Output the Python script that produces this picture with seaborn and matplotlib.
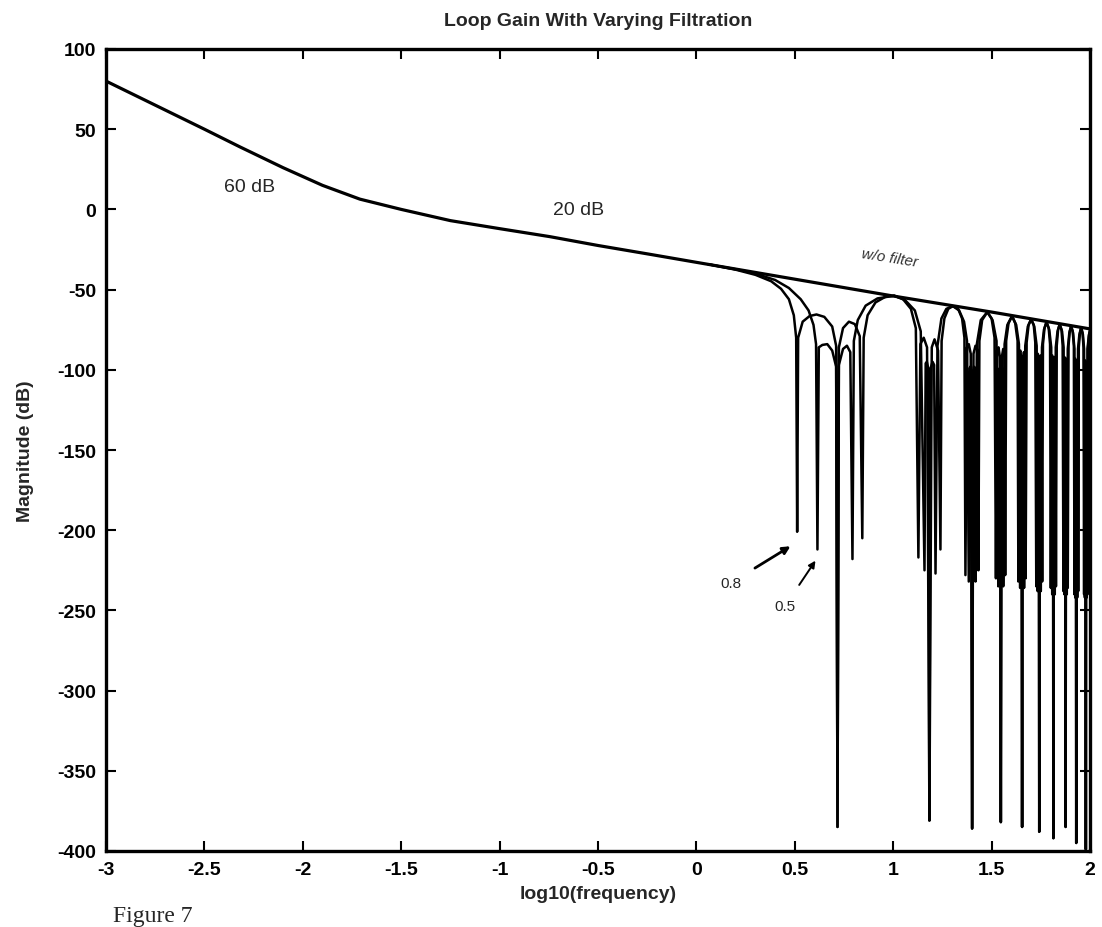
import matplotlib
matplotlib.use("Agg")
import matplotlib.pyplot as plt
import seaborn as sns
import pandas as pd

# ---------------- data ----------------
main_x = [-3, -2.75, -2.5, -2.32, -2.1, -1.9, -1.71, -1.5, -1.25, -1.0, -0.744,
          -0.5, -0.236, 0.0, 0.5, 1.0, 1.5, 2.0]
main_y = [80, 65, 50, 39, 26, 15, 6.4, 0, -7, -12, -17,
          -22.5, -28, -33, -43.5, -54, -64, -74.5]

curve_08 = [
    (0.06, -34.2), (0.2, -37.6), (0.3, -40.8), (0.38, -44.8), (0.43, -49.5), (0.47, -56),
    (0.495, -66), (0.507, -80), (0.512, -201),
    (0.517, -80), (0.54, -70), (0.575, -66.5), (0.61, -65.5), (0.65, -67), (0.69, -73), (0.71, -85), (0.717, -385),
    (0.724, -86), (0.745, -74), (0.775, -70), (0.805, -71.5), (0.83, -79), (0.843, -205),
    (0.85, -80), (0.87, -66), (0.91, -58), (0.96, -54.5), (1.005, -53.8), (1.05, -56), (1.09, -62), (1.115, -74), (1.128, -217),
    (1.138, -84), (1.155, -80), (1.172, -86), (1.184, -381), (1.196, -86), (1.21, -81), (1.228, -88), (1.240, -212),
    (1.246, -82), (1.26, -68), (1.28, -62), (1.303, -60.3), (1.33, -62), (1.35, -68), (1.362, -80), (1.367, -228),
    (1.375, -86), (1.384, -84), (1.394, -90), (1.401, -386), (1.408, -90), (1.418, -85), (1.428, -88), (1.433, -225),
    (1.438, -82), (1.452, -69), (1.478, -64), (1.50, -68), (1.515, -80), (1.522, -230),
    (1.528, -88), (1.535, -86), (1.542, -92), (1.547, -382), (1.552, -92), (1.559, -87), (1.565, -90), (1.569, -228),
    (1.574, -82), (1.586, -71), (1.604, -66.5), (1.62, -71), (1.632, -82), (1.636, -232),
    (1.641, -90), (1.646, -88), (1.651, -93), (1.655, -385), (1.659, -93), (1.664, -89), (1.669, -92), (1.673, -230),
    (1.678, -83), (1.688, -72), (1.701, -68.5), (1.714, -72), (1.722, -83), (1.727, -235),
    (1.731, -91), (1.735, -90), (1.739, -94), (1.742, -388), (1.745, -94), (1.749, -91), (1.753, -93), (1.757, -232),
    (1.761, -84), (1.769, -74), (1.779, -70.2), (1.79, -74), (1.797, -84), (1.801, -236),
    (1.805, -92), (1.808, -91), (1.811, -95), (1.814, -392), (1.817, -95), (1.820, -92), (1.824, -94), (1.827, -235),
    (1.831, -85), (1.838, -75), (1.846, -71.6), (1.855, -75), (1.861, -85), (1.865, -238),
    (1.868, -93), (1.870, -92), (1.873, -96), (1.876, -385), (1.879, -96), (1.882, -93), (1.885, -95), (1.887, -236),
    (1.891, -85), (1.897, -76), (1.904, -72.8), (1.912, -76), (1.918, -85), (1.921, -240),
    (1.923, -94), (1.925, -93), (1.928, -97), (1.930, -395), (1.932, -97), (1.935, -94), (1.938, -96), (1.940, -238),
    (1.943, -86), (1.949, -77), (1.955, -73.8), (1.962, -77), (1.967, -86), (1.970, -240),
    (1.972, -95), (1.974, -94), (1.977, -98), (1.979, -399), (1.981, -98), (1.983, -95), (1.985, -97), (1.987, -240),
    (1.990, -86), (1.995, -78), (2.0, -75.5),
]

curve_05 = [
    (0.06, -34.2), (0.2, -37.3), (0.3, -40), (0.4, -44), (0.47, -49), (0.53, -56), (0.57, -63),
    (0.595, -72), (0.608, -84), (0.615, -212),
    (0.622, -86), (0.64, -84.5), (0.665, -84), (0.69, -88), (0.71, -98), (0.717, -385),
    (0.724, -97), (0.745, -87), (0.765, -85), (0.782, -89), (0.793, -218),
    (0.80, -82), (0.82, -69), (0.86, -60), (0.92, -55.5), (1.005, -53.8), (1.06, -56.5), (1.11, -63), (1.14, -76), (1.159, -225),
    (1.165, -96), (1.171, -95), (1.178, -99), (1.184, -381), (1.190, -99), (1.20, -95), (1.208, -97), (1.215, -227),
    (1.225, -85), (1.245, -68), (1.27, -62), (1.303, -60.3), (1.335, -63), (1.36, -70), (1.375, -82), (1.384, -232),
    (1.389, -99), (1.392, -98), (1.396, -101), (1.401, -386), (1.406, -101), (1.410, -98), (1.414, -99), (1.418, -232),
    (1.425, -84), (1.445, -69), (1.478, -64), (1.505, -69), (1.525, -82), (1.534, -235),
    (1.538, -100), (1.541, -99), (1.544, -102), (1.547, -382), (1.550, -102), (1.553, -99), (1.556, -100), (1.559, -235),
    (1.566, -84), (1.58, -72), (1.604, -66.5), (1.625, -72), (1.639, -84), (1.645, -236),
    (1.648, -100), (1.650, -99), (1.653, -102), (1.655, -385), (1.657, -102), (1.660, -99), (1.662, -100), (1.665, -236),
    (1.671, -85), (1.684, -73), (1.701, -68.5), (1.717, -73), (1.729, -85), (1.734, -238),
    (1.737, -100), (1.739, -99), (1.741, -102), (1.742, -388), (1.744, -102), (1.746, -99), (1.748, -100), (1.750, -238),
    (1.756, -86), (1.766, -75), (1.779, -70.2), (1.793, -75), (1.803, -86), (1.808, -240),
    (1.810, -100), (1.812, -99), (1.813, -102), (1.814, -392), (1.815, -102), (1.817, -99), (1.819, -100), (1.821, -240),
    (1.826, -86), (1.835, -76), (1.846, -71.6), (1.858, -76), (1.866, -86), (1.870, -240),
    (1.872, -101), (1.874, -100), (1.875, -103), (1.876, -385), (1.877, -103), (1.879, -100), (1.881, -101), (1.882, -240),
    (1.887, -87), (1.895, -77), (1.904, -72.8), (1.914, -77), (1.921, -87), (1.925, -242),
    (1.927, -101), (1.928, -100), (1.929, -103), (1.930, -395), (1.931, -103), (1.932, -100), (1.934, -101), (1.935, -242),
    (1.939, -87), (1.946, -78), (1.955, -73.8), (1.964, -78), (1.970, -87), (1.974, -242),
    (1.976, -101), (1.977, -100), (1.978, -103), (1.979, -399), (1.980, -103), (1.981, -100), (1.982, -101), (1.983, -242),
    (1.987, -87), (1.994, -79), (2.0, -75.5),
]

x_ticks = [-3, -2.5, -2, -1.5, -1, -0.5, 0, 0.5, 1, 1.5, 2]
x_tick_labels = ["-3", "-2.5", "-2", "-1.5", "-1", "-0.5", "0", "0.5", "1", "1.5", "2"]
y_ticks = [100, 50, 0, -50, -100, -150, -200, -250, -300, -350, -400]
y_tick_labels = ["100", "50", "0", "-50", "-100", "-150", "-200", "-250", "-300", "-350", "-400"]

title_text = "Loop Gain With Varying Filtration"
x_label = "log10(frequency)"
y_label = "Magnitude (dB)"

# ---------------- figure ----------------
sns.set_theme(style="ticks")
plt.rcParams["font.family"] = ["Liberation Sans", "DejaVu Sans"]

fig = plt.figure(figsize=(11.02, 9.28), dpi=100)
ax = fig.add_axes([106 / 1102, 1 - 852 / 928, (1090 - 106) / 1102, (852 - 50) / 928])

df_main = pd.DataFrame({"x": main_x, "y": main_y})
df_08 = pd.DataFrame(curve_08, columns=["x", "y"])
df_05 = pd.DataFrame(curve_05, columns=["x", "y"])

for d, lw in [(df_05, 1.8), (df_08, 1.8), (df_main, 2.3)]:
    sns.lineplot(data=d, x="x", y="y", ax=ax, color="black", linewidth=lw,
                 sort=False, estimator=None)

ax.set_xlim(-3, 2)
ax.set_ylim(-400, 100)
ax.set_xticks(x_ticks)
ax.set_xticklabels(x_tick_labels)
ax.set_yticks(y_ticks)
ax.set_yticklabels(y_tick_labels)
ax.tick_params(direction="in", top=True, right=True, length=7, width=1.5,
               labelsize=14, pad=7, colors="black")
for lab in ax.get_xticklabels() + ax.get_yticklabels():
    lab.set_fontweight("bold")
for s in ax.spines.values():
    s.set_linewidth(2.4)
    s.set_color("black")
ax.set_xlabel("")
ax.set_ylabel("")

fig.text(598 / 1102, 1 - 22 / 928, title_text, ha="center", va="center",
         fontsize=14, fontweight="bold")
fig.text(598 / 1102, 1 - 895 / 928, x_label, ha="center", va="center",
         fontsize=14, fontweight="bold")
fig.text(26 / 1102, 1 - 451 / 928, y_label, ha="center", va="center",
         rotation=90, fontsize=14, fontweight="bold")
fig.text(113 / 1102, 1 - 917 / 928, "Figure 7", ha="left", va="center",
         fontsize=17, family=["Liberation Serif", "DejaVu Serif"])

# annotations
ax.text(-2.27, 14, "60 dB", ha="center", va="center", fontsize=14)
ax.text(-0.6, 0, "20 dB", ha="center", va="center", fontsize=14)
ax.text(0.98, -30, "w/o filter", ha="center", va="center", fontsize=11,
        rotation=-9, color="#333333", style="italic")
ax.annotate("0.8", xy=(0.478, -210), xytext=(0.173, -233), fontsize=11,
            ha="center", va="center",
            arrowprops=dict(arrowstyle="-|>", color="black", lw=2.0,
                            shrinkA=9, shrinkB=0, mutation_scale=11))
ax.annotate("0.5", xy=(0.605, -219), xytext=(0.452, -247), fontsize=11,
            ha="center", va="center",
            arrowprops=dict(arrowstyle="-|>", color="black", lw=1.4,
                            shrinkA=9, shrinkB=0, mutation_scale=10))

fig.savefig("out.png", dpi=100, facecolor="white")
